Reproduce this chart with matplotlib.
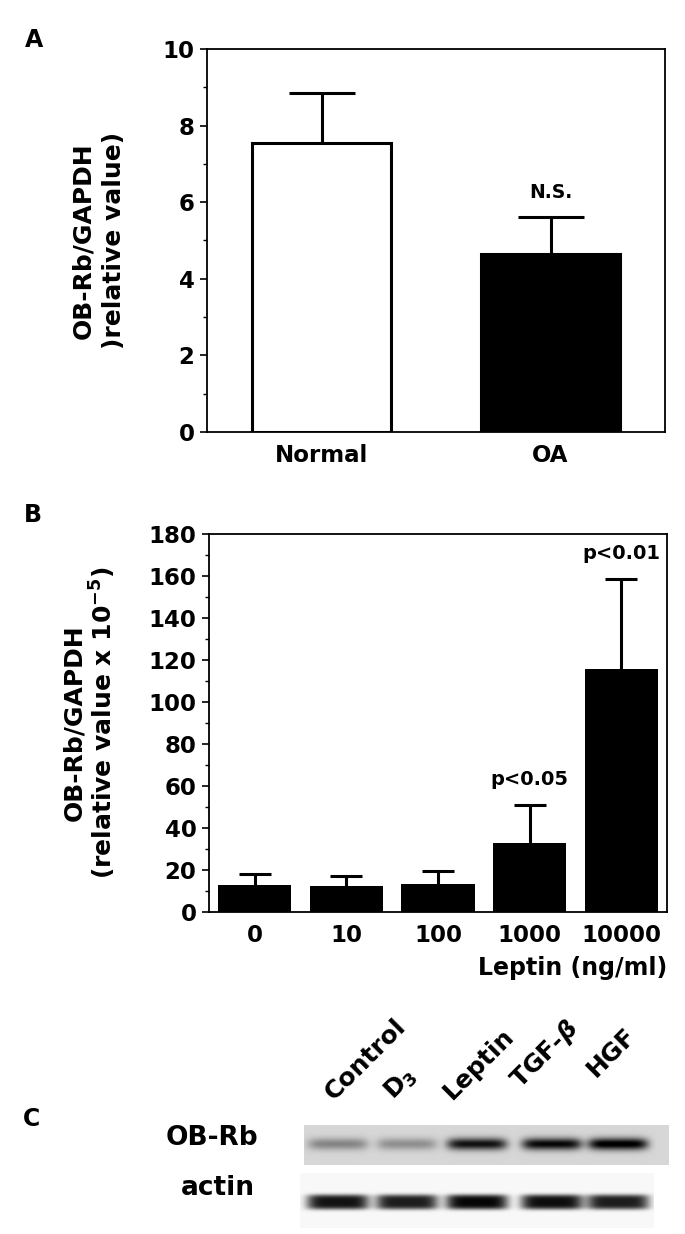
import numpy as np
import matplotlib
matplotlib.use("Agg")
import matplotlib.pyplot as plt
from matplotlib.ticker import MultipleLocator

plt.rcParams['font.family'] = ['DejaVu Sans']
plt.rcParams['font.weight'] = 'bold'
plt.rcParams['axes.labelweight'] = 'bold'

# panel A: OB-Rb mRNA, normal vs OA
groups_a = ['Normal', 'OA']
mean_a = [7.55, 4.65]
err_a = [1.30, 0.96]
fill_a = ['white', 'black']
note_a = ['', 'N.S.']

# panel B: leptin dose response
doses = ['0', '10', '100', '1000', '10000']
mean_b = [12.9, 12.4, 13.3, 32.9, 115.7]
err_b = [5.2, 4.7, 6.4, 18.1, 42.9]
note_b = ['', '', '', 'p<0.05', 'p<0.01']

# panel C: western blot, relative band darkness per lane
lanes = ['Control', 'D$_3$', 'Leptin', 'TGF-$\\beta$', 'HGF']
obrb_level = [0.32, 0.28, 0.78, 0.82, 0.88]
actin_level = [0.90, 0.86, 0.95, 0.92, 0.86]

W, H = 685, 1234
fig = plt.figure(figsize=(W / 100, H / 100), dpi=100)


def box(l, t, r, b):
    return [l / W, 1 - b / H, (r - l) / W, (b - t) / H]


def style(ax, minor):
    for s in ax.spines.values():
        s.set_linewidth(1.3)
    ax.yaxis.set_minor_locator(MultipleLocator(minor))
    ax.tick_params(axis='y', which='major', length=5, width=1.2, labelsize=16.5, pad=4)
    ax.tick_params(axis='y', which='minor', length=3, width=1.0)
    ax.tick_params(axis='x', length=0, labelsize=16.5, pad=9)


# ---- A
axA = fig.add_axes(box(207, 49, 665, 432))
xa = np.arange(len(groups_a))
axA.bar(xa, mean_a, width=0.61, color=fill_a, edgecolor='black', linewidth=2.2, zorder=2)
# symmetric bars drawn behind, so only the upper half shows
axA.errorbar(xa, mean_a, yerr=err_a, fmt='none', ecolor='black',
             elinewidth=2.2, capsize=24, capthick=2.2, zorder=1)
for i, t in enumerate(note_a):
    if t:
        axA.annotate(t, (xa[i], mean_a[i] + err_a[i]), xytext=(0, 18), textcoords='offset points',
                     ha='center', va='center', fontsize=13.5)
axA.set_xlim(-0.5, 1.5)
axA.set_ylim(0, 10)
axA.set_yticks(np.arange(0, 11, 2))
axA.set_xticks(xa)
axA.set_xticklabels(groups_a)
style(axA, 1)
axA.set_ylabel('OB-Rb/GAPDH\n)relative value)', fontsize=18, labelpad=26, linespacing=1.35)

# ---- B
axB = fig.add_axes(box(209, 534, 667, 912))
xb = np.arange(len(doses))
axB.bar(xb, mean_b, width=0.8, color='black', zorder=2)
axB.errorbar(xb, mean_b, yerr=err_b, fmt='none', ecolor='black',
             elinewidth=2.2, capsize=11.5, capthick=2.2, zorder=1)
for i, t in enumerate(note_b):
    if t:
        axB.annotate(t, (xb[i], mean_b[i] + err_b[i]), xytext=(0, 18), textcoords='offset points',
                     ha='center', va='center', fontsize=14)
axB.set_xlim(-0.5, 4.5)
axB.set_ylim(0, 180)
axB.set_yticks(np.arange(0, 181, 20))
axB.set_xticks(xb)
axB.set_xticklabels(doses)
style(axB, 10)
axB.set_ylabel('OB-Rb/GAPDH\n(relative value x 10$^{\\mathbf{-5}}$)', fontsize=18, labelpad=22, linespacing=1.05)
axB.set_xlabel('Leptin (ng/ml)', loc='right', fontsize=17, labelpad=6)

# ---- C (blot drawn in pixel space)
axC = fig.add_axes([0, 0, 1, 1], zorder=-1)
axC.axis('off')

lane_x = [338, 407, 477, 552, 618]


def blot(levels, x0, x1, y0, y1, cy, hw, hy, py, bg):
    X, Y = np.meshgrid(np.arange(x0, x1) + 0.5, np.arange(y0, y1) + 0.5)
    img = np.full(X.shape, bg)
    for cx, lv in zip(lane_x, levels):
        img -= lv * np.exp(-((X - cx) / hw) ** 6) * np.exp(-np.abs((Y - cy) / hy) ** py)
    return np.clip(img, 0, 1)


ob = blot(obrb_level, 304, 669, 1125, 1165, 1144, 30, 6.0, 2, 0.84)
ac = blot(actin_level, 300, 654, 1173, 1228, 1202, 31, 7.5, 4, 0.97)
axC.imshow(ob, cmap='gray', vmin=0, vmax=1, extent=(304, 669, 1165, 1125),
           interpolation='bilinear', aspect='auto')
axC.imshow(ac, cmap='gray', vmin=0, vmax=1, extent=(300, 654, 1228, 1173),
           interpolation='bilinear', aspect='auto')
axC.set_xlim(0, W)
axC.set_ylim(H, 0)

axC.text(258, 1138, 'OB-Rb', ha='right', va='center', fontsize=19)
axC.text(255, 1188, 'actin', ha='right', va='center', fontsize=19)

label_pos = [(334, 1101), (394, 1101), (452, 1100), (520, 1089), (596, 1078)]
for t, (lx, ly) in zip(lanes, label_pos):
    axC.text(lx, ly, t, rotation=45, rotation_mode='anchor', ha='left', va='baseline', fontsize=18)

fig.text(34 / W, 1 - 40 / H, 'A', ha='center', va='center', fontsize=17)
fig.text(33 / W, 1 - 515 / H, 'B', ha='center', va='center', fontsize=17)
fig.text(32 / W, 1 - 1119 / H, 'C', ha='center', va='center', fontsize=17)

fig.savefig('out.png', dpi=100)
